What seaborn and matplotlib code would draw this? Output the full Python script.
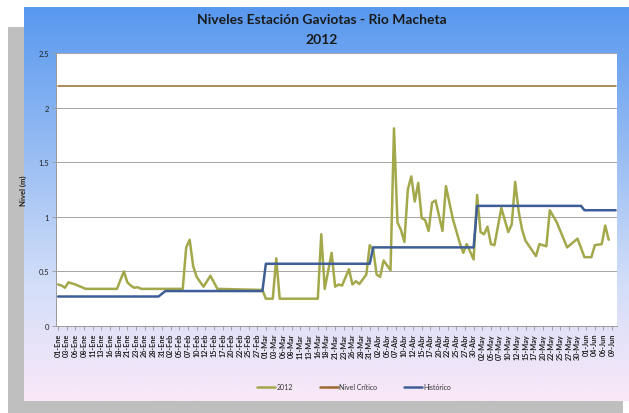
import numpy as np
import pandas as pd
import matplotlib
matplotlib.use("Agg")
import matplotlib.pyplot as plt
from matplotlib.patches import Rectangle
from matplotlib.lines import Line2D
import seaborn as sns

# ---------------- data ----------------
serie_2012_dates = ["2012-01-01", "2012-01-02", "2012-01-03", "2012-01-04", "2012-01-06", "2012-01-09",
                    "2012-01-18", "2012-01-20", "2012-01-21", "2012-01-22", "2012-01-23", "2012-01-24",
                    "2012-01-25", "2012-02-06", "2012-02-07", "2012-02-08", "2012-02-09", "2012-02-10",
                    "2012-02-12", "2012-02-14", "2012-02-16", "2012-02-29", "2012-03-01", "2012-03-03",
                    "2012-03-04", "2012-03-05", "2012-03-16", "2012-03-17", "2012-03-18", "2012-03-20",
                    "2012-03-21", "2012-03-22", "2012-03-23", "2012-03-25", "2012-03-26", "2012-03-27",
                    "2012-03-28", "2012-03-30", "2012-03-31", "2012-04-01", "2012-04-02", "2012-04-03",
                    "2012-04-04", "2012-04-06", "2012-04-07", "2012-04-08", "2012-04-09", "2012-04-10",
                    "2012-04-11", "2012-04-12", "2012-04-13", "2012-04-14", "2012-04-15", "2012-04-16",
                    "2012-04-17", "2012-04-18", "2012-04-19", "2012-04-21", "2012-04-22", "2012-04-24",
                    "2012-04-26", "2012-04-27", "2012-04-28", "2012-04-30", "2012-05-01", "2012-05-02",
                    "2012-05-03", "2012-05-04", "2012-05-05", "2012-05-06", "2012-05-08", "2012-05-10",
                    "2012-05-11", "2012-05-12", "2012-05-13", "2012-05-14", "2012-05-15", "2012-05-18",
                    "2012-05-19", "2012-05-21", "2012-05-22", "2012-05-24", "2012-05-27", "2012-05-30",
                    "2012-06-01", "2012-06-03", "2012-06-04", "2012-06-06", "2012-06-07", "2012-06-08"]
serie_2012_values = [0.38, 0.37, 0.35, 0.40, 0.38, 0.34,
                     0.34, 0.50, 0.40, 0.37, 0.35, 0.355,
                     0.34, 0.34, 0.72, 0.79, 0.55, 0.45,
                     0.36, 0.46, 0.34, 0.33, 0.25, 0.25,
                     0.62, 0.25, 0.25, 0.84, 0.34, 0.67,
                     0.36, 0.38, 0.37, 0.52, 0.38, 0.41,
                     0.385, 0.47, 0.74, 0.70, 0.47, 0.45,
                     0.60, 0.51, 1.81, 0.95, 0.88, 0.77,
                     1.25, 1.37, 1.14, 1.31, 0.99, 0.97,
                     0.87, 1.13, 1.15, 0.87, 1.28, 0.98,
                     0.76, 0.67, 0.75, 0.61, 1.20, 0.86,
                     0.84, 0.91, 0.75, 0.74, 1.08, 0.86,
                     0.93, 1.32, 1.05, 0.88, 0.78, 0.64,
                     0.75, 0.73, 1.06, 0.95, 0.72, 0.80,
                     0.63, 0.63, 0.74, 0.75, 0.92, 0.79]

historico_dates = ["2012-01-01", "2012-01-30", "2012-02-01", "2012-02-29", "2012-03-01", "2012-03-31",
                   "2012-04-01", "2012-04-30", "2012-05-01", "2012-05-31", "2012-06-01", "2012-06-10"]
historico_values = [0.27, 0.27, 0.32, 0.32, 0.57, 0.57,
                    0.72, 0.72, 1.10, 1.10, 1.06, 1.06]

critico_dates = ["2012-01-01", "2012-06-10"]
critico_values = [2.2, 2.2]

tick_labels = ["01-Ene", "03-Ene", "06-Ene", "08-Ene", "11-Ene", "13-Ene", "16-Ene", "18-Ene", "21-Ene",
               "23-Ene", "26-Ene", "28-Ene", "31-Ene", "02-Feb", "05-Feb", "07-Feb", "10-Feb", "12-Feb",
               "15-Feb", "17-Feb", "20-Feb", "22-Feb", "25-Feb", "27-Feb", "01-Mar", "03-Mar", "06-Mar",
               "08-Mar", "11-Mar", "13-Mar", "16-Mar", "18-Mar", "21-Mar", "23-Mar", "26-Mar", "28-Mar",
               "31-Mar", "02-Abr", "05-Abr", "07-Abr", "10-Abr", "12-Abr", "15-Abr", "17-Abr", "20-Abr",
               "22-Abr", "25-Abr", "27-Abr", "30-Abr", "02-May", "05-May", "07-May", "10-May", "12-May",
               "15-May", "17-May", "20-May", "22-May", "25-May", "27-May", "30-May", "01-Jun", "04-Jun",
               "06-Jun", "09-Jun"]
y_ticks = [0, 0.5, 1, 1.5, 2, 2.5]
y_tick_labels = ["0", "0.5", "1", "1.5", "2", "2.5"]

# ---------------- helpers ----------------
start = pd.Timestamp("2012-01-01")
def to_day(dates):
    return [(pd.Timestamp(d) - start).days for d in dates]

# labels are evenly spaced along the axis (every 2.5 days)
last_day = (pd.Timestamp("2012-06-09") - start).days
tick_pos = np.linspace(0, last_day, len(tick_labels))

df_2012 = pd.DataFrame({"dia": to_day(serie_2012_dates), "nivel": serie_2012_values})
df_hist = pd.DataFrame({"dia": to_day(historico_dates), "nivel": historico_values})
df_crit = pd.DataFrame({"dia": to_day(critico_dates), "nivel": critico_values})

# ---------------- figure ----------------
sns.set_theme(style="white")
plt.rcParams["font.family"] = ["Lato", "DejaVu Sans"]

W, H = 629, 414
fig = plt.figure(figsize=(W / 100, H / 100), dpi=100)
fig.patch.set_facecolor("white")

bg = fig.add_axes([0, 0, 1, 1], zorder=-5)
top = np.array([88, 152, 238]) / 255
mid = np.array([210, 222, 248]) / 255
bot = np.array([250, 232, 248]) / 255
n = 200
t = np.linspace(0, 1, n)[:, None]
grad = np.where(t < 0.7, top + (mid - top) * (t / 0.7), mid + (bot - mid) * ((t - 0.7) / 0.3))
img = np.repeat(grad[:, None, :], 2, axis=1)
bg.add_patch(Rectangle((8, 28), 615, 386, facecolor="#bfbfbf", edgecolor="none", zorder=0))
bg.imshow(img, extent=(24, 629, 402, 8), aspect="auto", interpolation="bilinear", zorder=1)
bg.set_xlim(0, W)
bg.set_ylim(H, 0)
bg.axis("off")

ax = fig.add_axes([56 / W, (H - 327) / H, (617 - 56) / W, (327 - 54) / H])
ax.set_facecolor("white")

c_2012 = "#a3a84a"
c_crit = "#9a6a2e"
c_hist = "#3f5e98"

sns.lineplot(data=df_2012, x="dia", y="nivel", ax=ax, color=c_2012, linewidth=1.8)
sns.lineplot(data=df_crit, x="dia", y="nivel", ax=ax, color=c_crit, linewidth=1.1)
sns.lineplot(data=df_hist, x="dia", y="nivel", ax=ax, color=c_hist, linewidth=1.8)

ax.set_xlim(-0.6, 161.4)
ax.set_ylim(0, 2.5)
ax.set_yticks(y_ticks)
ax.set_yticklabels(y_tick_labels, fontsize=5.5)
ax.set_xticks(tick_pos)
ax.set_xticklabels(tick_labels, rotation=90, fontsize=5.2, fontweight="bold")
ax.set_xlabel("")
ax.set_ylabel("Nivel (m)", fontsize=5.5, fontweight="bold", labelpad=8, color="#222222")
ax.yaxis.grid(True, color="#a6a6a6", linewidth=0.7)
ax.set_axisbelow(True)
for s in ["top", "right"]:
    ax.spines[s].set_visible(False)
for s in ["left", "bottom"]:
    ax.spines[s].set_color("#9a9a9a")
    ax.spines[s].set_linewidth(0.7)
ax.tick_params(axis="both", which="both", length=3, width=0.6, color="#9a9a9a", pad=2,
               left=True, bottom=True, labelcolor="#222222")

fig.text(322 / W, 1 - 20 / H, "Niveles Estación Gaviotas - Rio Macheta", ha="center", va="center",
         fontsize=10, fontweight="bold", color="#1a1a1a")
fig.text(322 / W, 1 - 40 / H, "2012", ha="center", va="center",
         fontsize=10, fontweight="bold", color="#1a1a1a")

handles = [Line2D([], [], color=c_2012, lw=1.8),
           Line2D([], [], color=c_crit, lw=1.8),
           Line2D([], [], color=c_hist, lw=1.8)]
leg = fig.legend(handles, ["2012", "Nivel Crítico", "Histórico"], loc="center",
                 bbox_to_anchor=(354 / W, 1 - 388 / H), ncol=3, frameon=False, fontsize=5,
                 handlelength=2.6, handletextpad=0.2, columnspacing=3.9)
for txt in leg.get_texts():
    txt.set_color("#333333")

fig.savefig("out.png", dpi=100)
